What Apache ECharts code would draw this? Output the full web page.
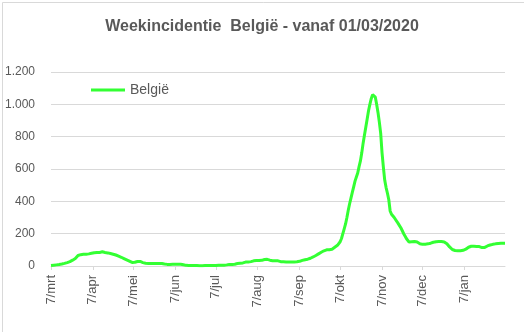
<!DOCTYPE html>
<html>
<head>
<meta charset="utf-8">
<script src="https://cdn.jsdelivr.net/npm/echarts@6/dist/echarts.min.js"></script>
<style>
html,body{margin:0;padding:0;background:#fff;}
#chart{width:524px;height:332px;}
</style>
</head>
<body>
<div id="chart"></div>
<script>
// Weekincidentie België, daily values from 7 March 2020
const startDate = '2020-03-07';
const monthNames = ['jan','feb','mrt','apr','mei','jun','jul','aug','sep','okt','nov','dec'];
const yTicks = [0, 200, 400, 600, 800, 1000, 1200];
const valsMar = [3,4,5,6,7,8,9,10,12,14,16,18,21,24,27,31,36,41,46,56,65,68,70,71,72,73,73,74,75,77,79];
const valsApr = [81,82,83,83,84,84,85,88,85,84,83,81,79,77,75,73,71,68,65,61,57,54,50,46,42,38,34,30,26,22];
const valsMay = [21,23,26,28,29,28,25,21,19,17,16,16,16,15,15,15,15,15,15,15,15,15,14,12,11,10,9,10,11,11,11];
const valsJun = [11,11,11,11,11,10,8,5,4,3,3,3,3,3,3,3,3,3,2,2,2,2,3,3,3,3,3,3,3,3];
const valsJul = [3,3,4,4,4,5,5,6,7,9,10,10,10,11,11,12,15,17,17,18,19,22,24,25,25,26,27,30,32,33,34];
const valsAug = [34,34,35,35,37,40,35,41,38,36,34,33,33,33,32,32,29,27,26,26,25,25,25,25,25,25,25,25,25,26,27];
const valsSep = [29,31,35,37,39,41,42,44,48,52,56,60,65,70,75,80,85,89,94,97,100,101,101,100,104,110,116,122,128,135];
const valsOct = [150,170,200,230,260,300,345,385,420,455,490,525,550,575,615,650,700,760,810,860,910,960,1000,1035,1060,1068,1045,1000,950,890,820];
const valsNov = [700,610,530,485,450,410,340,320,308,300,288,275,262,250,235,218,200,185,170,158,148,148,150,151,152,151,148,143,138,135];
const valsDec = [134,134,135,136,137,139,141,144,147,149,150,151,151,152,151,150,149,146,138,128,118,108,102,98,96,95,94,93,94,95,97];
const valsJan = [100,104,110,116,120,122,122,122,121,121,122,120,117,114,112,115,120,124,127,130,132,134,135,137,138,139,140,140,141,140,140];

const values = [].concat(valsMar, valsApr, valsMay, valsJun, valsJul, valsAug, valsSep, valsOct, valsNov, valsDec, valsJan);
const categories = [];
const t0 = Date.parse(startDate + 'T00:00:00Z');
for (let i = 0; i < values.length; i++) {
  const d = new Date(t0 + i * 86400000);
  categories.push(d.getUTCFullYear() + '-' + (d.getUTCMonth() + 1) + '-' + d.getUTCDate());
}
function isLabelDay(v) { return v.split('-')[2] === '7'; }
function fmtLabel(v) { const p = v.split('-'); return p[2] + '/' + monthNames[+p[1] - 1]; }
function fmtNum(v) { return String(v).replace(/\B(?=(\d{3})+(?!\d))/g, '.'); }

const chart = echarts.init(document.getElementById('chart'), null, {renderer: 'canvas'});
chart.setOption({
  animation: false,
  backgroundColor: '#ffffff',
  graphic: [{
    type: 'rect', left: 0, top: 0,
    shape: {x: 0.5, y: 0.5, width: 523, height: 331},
    style: {fill: 'none', stroke: '#d9d9d9', lineWidth: 1}
  }],
  title: {
    text: 'Weekincidentie  België - vanaf 01/03/2020',
    left: 'center', top: 14,
    textStyle: {fontFamily: 'Liberation Sans', fontWeight: 'bold', fontSize: 16, color: '#595959'}
  },
  legend: {
    data: ['België'],
    left: 86, top: 78,
    icon: 'rect', itemWidth: 34, itemHeight: 3, itemGap: 4,
    textStyle: {fontFamily: 'Liberation Sans', fontSize: 14, color: '#595959'}
  },
  grid: {left: 51, right: 19, top: 72, bottom: 66, containLabel: false},
  xAxis: {
    type: 'category',
    data: categories,
    boundaryGap: false,
    axisLine: {lineStyle: {color: '#d9d9d9', width: 1}},
    axisTick: {show: true, interval: (i, v) => isLabelDay(v), length: 4, lineStyle: {color: '#d9d9d9'}},
    axisLabel: {
      interval: (i, v) => isLabelDay(v),
      formatter: fmtLabel,
      rotate: 90, margin: 9,
      fontFamily: 'Liberation Sans', fontSize: 13, color: '#595959'
    },
    splitLine: {show: false}
  },
  yAxis: {
    type: 'value', min: yTicks[0], max: yTicks[yTicks.length - 1], interval: 200,
    axisLine: {show: false}, axisTick: {show: false},
    axisLabel: {formatter: fmtNum, margin: 16, fontFamily: 'Liberation Sans', fontSize: 12, color: '#595959'},
    splitLine: {lineStyle: {color: '#d9d9d9', width: 1}}
  },
  series: [{
    name: 'België', type: 'line', data: values,
    showSymbol: false, symbol: 'none',
    lineStyle: {color: '#33ff33', width: 3},
    itemStyle: {color: '#33ff33'}
  }]
});
</script>
</body>
</html>
